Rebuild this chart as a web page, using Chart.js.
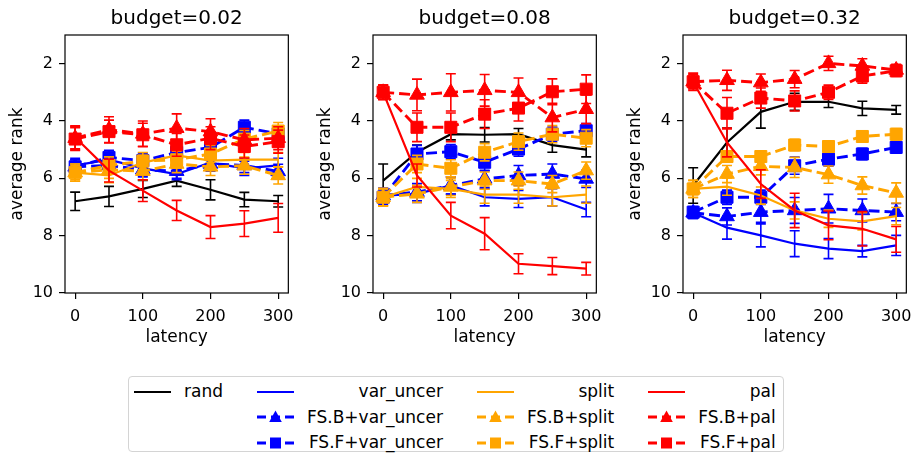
<!DOCTYPE html>
<html lang="en">
<head>
  <meta charset="UTF-8" />
  <title>average rank vs latency</title>
  <script src="https://cdn.jsdelivr.net/npm/chart.js"></script>
  <style>
    body {
      margin: 0; padding: 0; background: #fff;
      font-family: "DejaVu Sans", sans-serif; color: #000;
    }
    #wrap { position: relative; width: 921px; height: 459px; overflow: hidden; }
    #wrap canvas { position: absolute; top: 0; }
    #legend {
      position: absolute; left: 128px; top: 376px;
      display: flex; gap: 34px;
      padding: 2px 7px 0 5px; height: 76px; box-sizing: border-box;
      border: 1px solid #d4d4d4; border-radius: 4px;
      font-size: 17px;
    }
    .col {
      display: grid; grid-template-columns: 37px auto;
      grid-auto-rows: 25.5px; column-gap: 13px; align-items: center;
    }
    .col span { text-align: right; white-space: nowrap; line-height: 1; }
    .col svg { display: block; }
  </style>
</head>
<body>
  <div id="wrap">
    <canvas id="c0" width="302" height="350" style="left:0px"></canvas>
    <canvas id="c1" width="302" height="350" style="left:308px"></canvas>
    <canvas id="c2" width="302" height="350" style="left:618px"></canvas>
    <div id="legend"></div>
  </div>

  <script>
    // x values and ticks
    const latency = [0, 50, 100, 150, 200, 250, 300];
    const budgets = ['budget=0.02', 'budget=0.08', 'budget=0.32'];
    const xTicks = [0, 100, 200, 300];
    const yTicks = [2, 4, 6, 8, 10];

    // one row per budget (0.02, 0.08, 0.32)
    const rand = [
      [6.8, 6.63, 6.37, 6.08, 6.4, 6.74, 6.8],
      [6.08, 5.09, 4.46, 4.48, 4.46, 4.84, 5.0],
      [6.25, 4.75, 3.68, 3.33, 3.33, 3.56, 3.61]
    ];
    const randErr = [
      [0.32, 0.35, 0.3, 0.2, 0.35, 0.25, 0.2],
      [0.58, 0.25, 0.2, 0.25, 0.2, 0.25, 0.25],
      [0.62, 0.5, 0.57, 0.3, 0.2, 0.25, 0.15]
    ];

    const varUncer = [
      [5.55, 5.35, 5.65, 5.85, 5.45, 5.65, 5.55],
      [6.6, 6.54, 6.25, 6.66, 6.72, 6.66, 7.09],
      [7.2, 7.72, 7.99, 8.28, 8.45, 8.54, 8.34]
    ];
    const varUncerErr = [
      [0.25, 0.25, 0.25, 0.2, 0.25, 0.25, 0.25],
      [0.25, 0.3, 0.3, 0.3, 0.3, 0.3, 0.25],
      [0.2, 0.4, 0.4, 0.45, 0.35, 0.2, 0.35]
    ];

    const fsbVarUncer = [
      [5.6, 5.55, 5.7, 5.75, 5.5, 5.55, 5.76],
      [6.6, 6.48, 6.25, 6.02, 5.9, 5.85, 6.02],
      [7.2, 7.33, 7.18, 7.12, 7.06, 7.12, 7.18]
    ];
    const fsbVarUncerErr = [
      [0.25, 0.25, 0.25, 0.25, 0.25, 0.25, 0.25],
      [0.25, 0.3, 0.3, 0.3, 0.35, 0.35, 0.3],
      [0.2, 0.3, 0.35, 0.45, 0.5, 0.4, 0.3]
    ];

    const fsfVarUncer = [
      [5.6, 5.27, 5.38, 5.1, 4.92, 4.22, 4.45],
      [6.66, 5.15, 5.07, 5.44, 4.98, 4.46, 4.34],
      [7.18, 6.66, 6.66, 5.56, 5.33, 5.15, 4.92]
    ];
    const fsfVarUncerErr = [
      [0.25, 0.25, 0.25, 0.25, 0.25, 0.25, 0.25],
      [0.25, 0.3, 0.25, 0.3, 0.25, 0.25, 0.25],
      [0.2, 0.25, 0.25, 0.3, 0.25, 0.2, 0.2]
    ];

    const split = [
      [5.8, 5.9, 5.45, 5.2, 5.38, 5.35, 5.35],
      [6.66, 6.3, 6.37, 6.57, 6.57, 6.66, 6.57],
      [6.37, 6.29, 6.6, 7.12, 7.41, 7.5, 7.32]
    ];
    const splitErr = [
      [0.25, 0.25, 0.25, 0.25, 0.25, 0.25, 0.25],
      [0.3, 0.3, 0.3, 0.3, 0.3, 0.3, 0.3],
      [0.3, 0.3, 0.3, 0.3, 0.3, 0.3, 0.3]
    ];

    const fsbSplit = [
      [5.8, 5.7, 5.75, 5.5, 5.6, 5.56, 5.9],
      [6.66, 6.54, 6.3, 6.08, 6.08, 6.2, 5.73],
      [6.37, 5.85, 5.58, 5.62, 5.87, 6.25, 6.51]
    ];
    const fsbSplitErr = [
      [0.3, 0.3, 0.3, 0.3, 0.3, 0.3, 0.3],
      [0.3, 0.3, 0.3, 0.3, 0.3, 0.3, 0.3],
      [0.3, 0.3, 0.3, 0.35, 0.3, 0.3, 0.35]
    ];

    const fsfSplit = [
      [5.8, 5.55, 5.4, 5.35, 5.15, 4.63, 4.35],
      [6.66, 5.5, 5.65, 5.09, 4.72, 4.46, 4.6],
      [6.37, 5.24, 5.24, 4.84, 4.89, 4.54, 4.46]
    ];
    const fsfSplitErr = [
      [0.3, 0.3, 0.3, 0.3, 0.3, 0.3, 0.3],
      [0.3, 0.3, 0.3, 0.3, 0.3, 0.3, 0.3],
      [0.2, 0.2, 0.2, 0.2, 0.2, 0.2, 0.2]
    ];

    const pal = [
      [4.57, 5.73, 6.43, 7.12, 7.7, 7.58, 7.38],
      [3.0, 5.9, 7.3, 7.93, 8.98, 9.06, 9.15],
      [2.63, 4.75, 6.2, 7.12, 7.64, 7.76, 8.13]
    ];
    const palErr = [
      [0.4, 0.4, 0.38, 0.35, 0.4, 0.45, 0.5],
      [0.25, 0.4, 0.46, 0.56, 0.35, 0.3, 0.22],
      [0.2, 0.5, 0.5, 0.6, 0.5, 0.6, 0.45]
    ];

    const fsbPal = [
      [4.6, 4.3, 4.45, 4.25, 4.37, 4.66, 4.6],
      [3.0, 3.09, 3.0, 2.93, 3.0, 3.88, 3.59],
      [2.63, 2.58, 2.66, 2.54, 1.99, 2.08, 2.22]
    ];
    const fsbPalErr = [
      [0.4, 0.45, 0.45, 0.5, 0.45, 0.4, 0.4],
      [0.25, 0.55, 0.65, 0.55, 0.5, 0.5, 0.5],
      [0.3, 0.35, 0.3, 0.3, 0.25, 0.25, 0.2]
    ];

    const fsfPal = [
      [4.63, 4.37, 4.48, 4.83, 4.6, 4.89, 4.72],
      [3.0, 4.22, 4.22, 3.76, 3.55, 2.98, 2.89],
      [2.63, 3.73, 3.2, 3.3, 3.0, 2.43, 2.25]
    ];
    const fsfPalErr = [
      [0.4, 0.4, 0.4, 0.4, 0.4, 0.4, 0.4],
      [0.25, 0.5, 0.5, 0.5, 0.45, 0.45, 0.5],
      [0.25, 0.55, 0.35, 0.35, 0.25, 0.25, 0.2]
    ];

    // plotting order = legend order, later ones end up on top
    const series = [
      { name: 'rand', vals: rand, err: randErr, color: '#000000' },
      { name: 'var_uncer', vals: varUncer, err: varUncerErr, color: '#0000ff' },
      { name: 'FS.B+var_uncer', vals: fsbVarUncer, err: fsbVarUncerErr, color: '#0000ff', marker: 'triangle' },
      { name: 'FS.F+var_uncer', vals: fsfVarUncer, err: fsfVarUncerErr, color: '#0000ff', marker: 'rect' },
      { name: 'split', vals: split, err: splitErr, color: '#ffa500' },
      { name: 'FS.B+split', vals: fsbSplit, err: fsbSplitErr, color: '#ffa500', marker: 'triangle' },
      { name: 'FS.F+split', vals: fsfSplit, err: fsfSplitErr, color: '#ffa500', marker: 'rect' },
      { name: 'pal', vals: pal, err: palErr, color: '#ff0000' },
      { name: 'FS.B+pal', vals: fsbPal, err: fsbPalErr, color: '#ff0000', marker: 'triangle' },
      { name: 'FS.F+pal', vals: fsfPal, err: fsfPalErr, color: '#ff0000', marker: 'rect' }
    ];

    Chart.defaults.font.family = '"DejaVu Sans", sans-serif';
    Chart.defaults.color = '#000';

    // vertical error bars with caps, drawn just under each line
    const errorBars = {
      id: 'errorBars',
      beforeDatasetDraw(chart, args) {
        const ds = chart.data.datasets[args.index];
        const yScale = chart.scales.y;
        const ctx = chart.ctx;
        ctx.save();
        ctx.strokeStyle = ds.borderColor;
        ctx.lineWidth = 1.6;
        args.meta.data.forEach((pt, j) => {
          const v = ds.data[j].y, e = ds.errors[j];
          const t = yScale.getPixelForValue(v - e);
          const b = yScale.getPixelForValue(v + e);
          ctx.beginPath();
          ctx.moveTo(pt.x, t); ctx.lineTo(pt.x, b);
          ctx.moveTo(pt.x - 5, t); ctx.lineTo(pt.x + 5, t);
          ctx.moveTo(pt.x - 5, b); ctx.lineTo(pt.x + 5, b);
          ctx.stroke();
        });
        ctx.restore();
      }
    };

    // axes box + title centred over the plot area
    const frame = {
      id: 'frame',
      afterDraw(chart, args, opts) {
        const a = chart.chartArea, ctx = chart.ctx;
        ctx.save();
        ctx.strokeStyle = '#000';
        ctx.lineWidth = 1.2;
        ctx.strokeRect(a.left, a.top, a.right - a.left, a.bottom - a.top);
        ctx.fillStyle = '#000';
        ctx.font = '20px "DejaVu Sans", sans-serif';
        ctx.textAlign = 'center';
        ctx.textBaseline = 'alphabetic';
        ctx.fillText(opts.text, (a.left + a.right) / 2, 24);
        ctx.restore();
      }
    };

    function makePanel(p) {
      const datasets = series.map((s, i) => ({
        label: s.name,
        data: latency.map((x, j) => ({ x: x, y: s.vals[p][j] })),
        errors: s.err[p],
        borderColor: s.color,
        backgroundColor: s.color,
        borderWidth: s.marker ? 2.9 : 2.2,
        borderDash: s.marker ? [11, 5] : [],
        pointStyle: s.marker || 'circle',
        pointRadius: s.marker ? 8.5 : 0,
        pointBorderWidth: 1,
        order: series.length - i
      }));

      new Chart(document.getElementById('c' + p), {
        type: 'line',
        data: { datasets },
        options: {
          responsive: false,
          animation: false,
          devicePixelRatio: 1,
          layout: { padding: { left: 0, right: 12, top: 35, bottom: 0 } },
          plugins: {
            legend: { display: false },
            tooltip: { enabled: false },
            title: { display: false },
            frame: { text: budgets[p] }
          },
          scales: {
            x: {
              type: 'linear', min: -15, max: 315,
              afterBuildTicks: s => { s.ticks = xTicks.map(v => ({ value: v })); },
              afterFit: s => { s.height = 57; },
              ticks: { font: { size: 16 }, padding: 8, maxRotation: 0 },
              grid: { drawOnChartArea: false, drawTicks: true, tickLength: 6, color: '#000', lineWidth: 1.2 },
              border: { display: false },
              title: { display: true, text: 'latency', font: { size: 17 }, padding: { top: 0, bottom: 2 } }
            },
            y: {
              type: 'linear', min: 1, max: 10, reverse: true,
              afterBuildTicks: s => { s.ticks = yTicks.map(v => ({ value: v })); },
              afterFit: s => { s.width = 65; },
              ticks: { font: { size: 16 }, padding: 6 },
              grid: { drawOnChartArea: false, drawTicks: true, tickLength: 6, color: '#000', lineWidth: 1.2 },
              border: { display: false },
              title: { display: true, text: 'average rank', font: { size: 17 }, padding: { top: 7, bottom: 0 } }
            }
          }
        },
        plugins: [errorBars, frame]
      });
    }

    [0, 1, 2].forEach(makePanel);

    // legend laid out like the original: 4 columns, labels right-aligned
    function handle(s) {
      let svg = '<svg width="37" height="16" viewBox="0 0 37 16">';
      if (!s.marker) {
        svg += `<line x1="0" y1="8" x2="37" y2="8" stroke="${s.color}" stroke-width="2.2"/>`;
      } else {
        svg += `<line x1="0" y1="8" x2="37" y2="8" stroke="${s.color}" stroke-width="2.8" stroke-dasharray="9 5"/>`;
        if (s.marker === 'triangle') {
          svg += `<polygon points="18.5,1.5 24.8,13 12.2,13" fill="${s.color}"/>`;
        } else {
          svg += `<rect x="13" y="2.5" width="11" height="11" fill="${s.color}"/>`;
        }
      }
      return svg + '</svg>';
    }
    const legendCols = [[0], [1, 2, 3], [4, 5, 6], [7, 8, 9]];
    document.getElementById('legend').innerHTML = legendCols.map(col =>
      '<div class="col">' + col.map(i =>
        handle(series[i]) + '<span>' + series[i].name + '</span>').join('') + '</div>'
    ).join('');
  </script>
</body>
</html>
